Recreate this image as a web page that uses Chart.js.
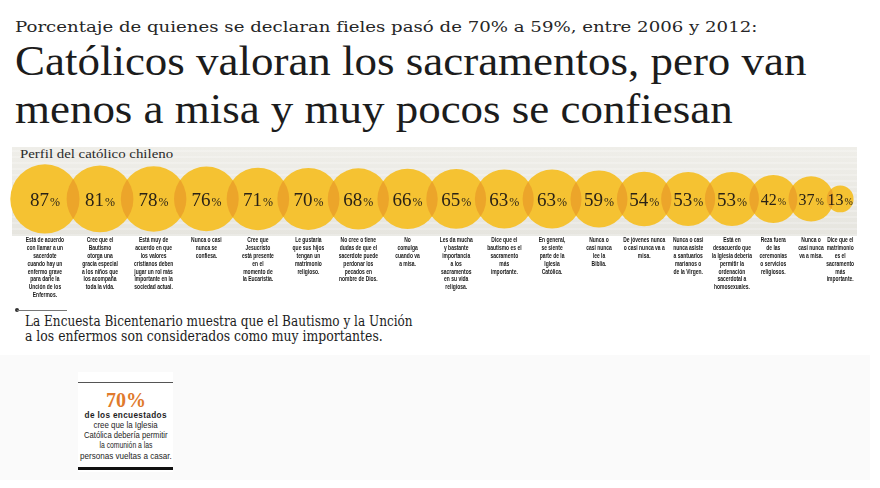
<!DOCTYPE html>
<html lang="es">
<head>
<meta charset="utf-8">
<title>Católicos valoran los sacramentos</title>
<script src="https://cdn.jsdelivr.net/npm/chart.js@4.4.1/dist/chart.umd.min.js"></script>
<style>
  html, body { margin: 0; padding: 0; }
  body { width: 880px; height: 488px; background: #fff; position: relative; overflow: hidden; color: #1c1c1c; }
  .t { position: absolute; white-space: nowrap; line-height: 1; transform-origin: 0 0; }
  .serif { font-family: 'Liberation Serif', 'Times New Roman', serif; }
  .dserif { font-family: 'DejaVu Serif', Georgia, serif; }
  #band {
    position: absolute; left: 12px; top: 147px; width: 845px; height: 89px;
    background:
      repeating-linear-gradient(0deg, rgba(255,255,255,0.22) 0 2px, rgba(0,0,0,0) 2px 6px),
      linear-gradient(180deg, #efeee9, #e6e5df);
  }
  #faint { position: absolute; left: 0; top: 355px; width: 870px; height: 125px; background: #fafafa; }
  #box { position: absolute; left: 78px; top: 372px; width: 95px; height: 100px; background: #fff; }
  #chart { position: absolute; left: 0; top: 140px; }
  .rule { position: absolute; background: #222; }
  .note { font-family: 'Liberation Sans', Arial, sans-serif; font-size: 9.5px; color: #1e1e1e; }
</style>
</head>
<body>
<div id="faint"></div>
<div id="box"></div>

<div class="t dserif" style="left:15px; top:19.5px; font-size:14.5px; color:#262626;" data-w="742">Porcentaje de quienes se declaran fieles pasó de 70% a 59%, entre 2006 y 2012:</div>
<div class="t serif" style="left:15px; top:39.5px; font-size:42px;" data-w="791">Católicos valoran los sacramentos, pero van</div>
<div class="t serif" style="left:15px; top:87.5px; font-size:42px;" data-w="718">menos a misa y muy pocos se confiesan</div>

<div id="band"></div>
<div class="t serif" style="left:20px; top:147px; font-size:13.5px; color:#2a2a2a;" data-w="153">Perfil del católico chileno</div>
<canvas id="chart" width="880" height="165"></canvas>

<div style="position:absolute; left:15px; top:308px; width:4px; height:4px; border-radius:2px; background:#333;"></div>
<div class="rule" style="left:17px; top:310px; width:50px; height:1px; background:#777;"></div>
<div class="t dserif" style="left:25px; top:314.4px; font-size:15px;" data-w="388">La Encuesta Bicentenario muestra que el Bautismo y la Unción</div>
<div class="t dserif" style="left:25px; top:329.4px; font-size:15px;" data-w="358">a los enfermos son considerados como muy importantes.</div>

<div class="rule" style="left:78px; top:382px; width:95px; height:1px; background:#555;"></div>
<div class="t serif" style="top:389px; font-size:22px; font-weight:bold; color:#e07a2c;" data-w="40" data-cx="125.5">70%</div>
<div class="t note" style="top:410px; font-weight:bold; letter-spacing:0.4px;" data-w="82" data-cx="125.5">de los encuestados</div>
<div class="t note" style="top:420px;" data-w="64" data-cx="125.5">cree que la Iglesia</div>
<div class="t note" style="top:430px;" data-w="84" data-cx="125.5">Católica debería permitir</div>
<div class="t note" style="top:440px;" data-w="53" data-cx="125.5">la comunión a las</div>
<div class="t note" style="top:451px;" data-w="92" data-cx="125.5">personas vueltas a casar.</div>
<div class="rule" style="left:78px; top:467px; width:95px; height:3px; background:#111;"></div>

<script>
// Perfil del católico chileno
const percentages = [87, 81, 78, 76, 71, 70, 68, 66, 65, 63, 63, 59, 54, 53, 53, 42, 37, 13];
const descriptions = [
  ['Está de acuerdo', 'con llamar a un', 'sacerdote', 'cuando hay un', 'enfermo grave', 'para darle la', 'Unción de los', 'Enfermos.'],
  ['Cree que el', 'Bautismo', 'otorga una', 'gracia especial', 'a los niños que', 'los acompaña', 'toda la vida.'],
  ['Está muy de', 'acuerdo en que', 'los valores', 'cristianos deben', 'jugar un rol más', 'importante en la', 'sociedad actual.'],
  ['Nunca o casi', 'nunca se', 'confiesa.'],
  ['Cree que', 'Jesucristo', 'está presente', 'en el', 'momento de', 'la Eucaristía.'],
  ['Le gustaría', 'que sus hijos', 'tengan un', 'matrimonio', 'religioso.'],
  ['No cree o tiene', 'dudas de que el', 'sacerdote puede', 'perdonar los', 'pecados en', 'nombre de Dios.'],
  ['No', 'comulga', 'cuando va', 'a misa.'],
  ['Les da mucha', 'y bastante', 'importancia', 'a los', 'sacramentos', 'en su vida', 'religiosa.'],
  ['Dice que el', 'bautismo es el', 'sacramento', 'más', 'importante.'],
  ['En general,', 'se siente', 'parte de la', 'Iglesia', 'Católica.'],
  ['Nunca o', 'casi nunca', 'lee la', 'Biblia.'],
  ['De jóvenes nunca', 'o casi nunca va a', 'misa.'],
  ['Nunca o casi', 'nunca asiste', 'a santuarios', 'marianos o', 'de la Virgen.'],
  ['Está en', 'desacuerdo que', 'la Iglesia debería', 'permitir la', 'ordenación', 'sacerdotal a', 'homosexuales.'],
  ['Reza fuera', 'de las', 'ceremonias', 'o servicios', 'religiosos.'],
  ['Nunca o', 'casi nunca', 'va a misa.'],
  ['Dice que el', 'matrimonio', 'es el', 'sacramento', 'más', 'importante.']
];

const CIRCLE = '#f5c232';
const CIRCLE_OVERLAP = '#eca52a';
const PACK = 0.81; // circles overlap: centre distance = PACK * (r1 + r2)

// bubble area is proportional to the percentage, so the radius goes with sqrt(value)
const xPos = [];
percentages.forEach((v, i) => {
  xPos.push(i === 0 ? 0 : xPos[i - 1] + PACK * (Math.sqrt(percentages[i - 1]) + Math.sqrt(v)));
});

const bubbleText = {
  id: 'bubbleText',
  afterDatasetsDraw(chart) {
    const ctx = chart.ctx;
    const pts = chart.getDatasetMeta(0).data;

    // darker lens where two circles overlap
    ctx.save();
    ctx.fillStyle = CIRCLE_OVERLAP;
    for (let i = 0; i < pts.length - 1; i++) {
      const a = pts[i], b = pts[i + 1];
      if (!(a.options.radius > 0 && b.options.radius > 0)) continue;
      ctx.save();
      ctx.beginPath();
      ctx.arc(a.x, a.y, a.options.radius, 0, Math.PI * 2);
      ctx.clip();
      ctx.beginPath();
      ctx.arc(b.x, b.y, b.options.radius, 0, Math.PI * 2);
      ctx.fill();
      ctx.restore();
    }
    ctx.restore();

    // percentages
    ctx.save();
    ctx.fillStyle = '#2a2216';
    ctx.textAlign = 'left';
    ctx.textBaseline = 'alphabetic';
    pts.forEach((p, i) => {
      const big = p.options.radius >= 26 ? 19 : 16;
      const small = Math.round(big * 0.62);
      const num = String(percentages[i]);
      ctx.font = big + "px 'Liberation Serif', serif";
      const w1 = ctx.measureText(num).width;
      ctx.font = small + "px 'Liberation Serif', serif";
      const w2 = ctx.measureText('%').width;
      const x0 = p.x - (w1 + w2 + 1) / 2;
      const base = p.y + big * 0.35;
      ctx.font = big + "px 'Liberation Serif', serif";
      ctx.fillText(num, x0, base);
      ctx.font = small + "px 'Liberation Serif', serif";
      ctx.fillText('%', x0 + w1 + 1, base);
    });
    ctx.restore();

    // descriptions under each circle
    ctx.save();
    ctx.font = "bold 7.5px 'Liberation Sans', Arial, sans-serif";
    ctx.textAlign = 'center';
    ctx.textBaseline = 'middle';
    ctx.fillStyle = '#161616';
    pts.forEach((p, i) => {
      descriptions[i].forEach((line, j) => {
        ctx.save();
        ctx.translate(p.x, p.y + 41 + j * 7.9);
        ctx.scale(0.66, 1);
        ctx.fillText(line, 0, 0);
        ctx.restore();
      });
    });
    ctx.restore();
  }
};

const chart = new Chart(document.getElementById('chart'), {
  type: 'bubble',
  data: {
    datasets: [{
      data: percentages.map((v, i) => ({ x: xPos[i], y: 0, r: 1 })),
      backgroundColor: CIRCLE,
      borderWidth: 0,
      clip: false
    }]
  },
  options: {
    responsive: false,
    animation: false,
    events: [],
    layout: { padding: 0, autoPadding: false },
    scales: {
      x: { type: 'linear', display: false, min: -12.1, max: 225 },
      y: { type: 'linear', display: false, min: -1.8, max: 1 }
    },
    plugins: { legend: { display: false }, tooltip: { enabled: false } }
  },
  plugins: [bubbleText]
});

// radius in pixels taken from the x scale, so the circles keep their packing
const xs = chart.scales.x;
chart.data.datasets[0].data.forEach((d, i) => {
  d.r = xs.getPixelForValue(Math.sqrt(percentages[i])) - xs.getPixelForValue(0);
});
chart.update();

// stretch static texts to the widths they have in the print
function fitTexts() {
  document.querySelectorAll('.t[data-w]').forEach(el => {
    el.style.transform = 'none';
    const w = el.offsetWidth;
    const target = +el.dataset.w;
    if (el.dataset.cx) {
      el.style.left = (+el.dataset.cx - w / 2) + 'px';
      el.style.transformOrigin = 'center top';
    }
    el.style.transform = 'scaleX(' + (target / w) + ')';
  });
}
fitTexts();
document.fonts.ready.then(fitTexts);
</script>
</body>
</html>
